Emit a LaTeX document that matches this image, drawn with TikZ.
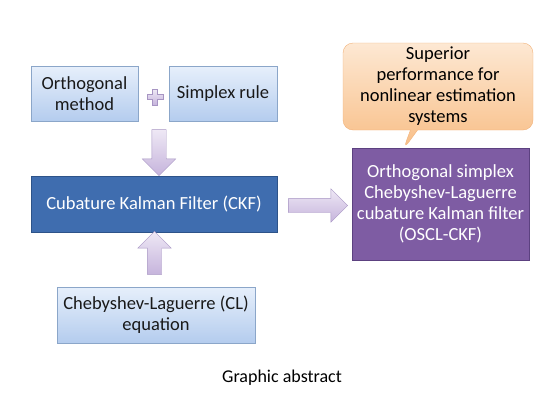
\documentclass[tikz,border=0pt]{standalone}
\usepackage{fontspec}
\setmainfont{Carlito}
\usetikzlibrary{shapes.arrows,shapes.callouts}

\definecolor{lbline}{HTML}{8BA6C9}
\definecolor{lbtop}{HTML}{E6EFFB}
\definecolor{lbbot}{HTML}{B4CCEE}
\definecolor{ckffill}{HTML}{3F6DAF}
\definecolor{ckfline}{HTML}{2D5389}
\definecolor{oscfill}{HTML}{7E5CA3}
\definecolor{oscline}{HTML}{5C4180}
\definecolor{calltop}{HTML}{FDE8D3}
\definecolor{callbot}{HTML}{F8BE86}
\definecolor{callline}{HTML}{F2B27A}
\definecolor{artop}{HTML}{EEE8F5}
\definecolor{arbot}{HTML}{C6B4DC}
\definecolor{arline}{HTML}{A795C3}

\tikzset{
  boxtext/.style={font=\fontsize{18.5}{21}\selectfont, align=center, inner sep=0pt},
  lightbox/.style={boxtext, draw=lbline, top color=lbtop, bottom color=lbbot, text=black!90},
  blockarrow/.style={single arrow, draw=arline, top color=artop, bottom color=arbot,
    inner sep=7pt, single arrow head extend=9.5pt, single arrow tip angle=90},
}

\begin{document}
\begin{tikzpicture}[x=1pt,y=-1pt]
\useasboundingbox (0,0) rectangle (550,413);

  \node[lightbox, minimum width=107pt, minimum height=55pt] (orth) at (84.5,94) {Orthogonal\\method};
  \node[lightbox, minimum width=108pt, minimum height=55pt] (simp) at (223,94) {Simplex rule};

  % plus sign between the two inputs
  \filldraw[draw=arline, top color=artop, bottom color=arbot]
    (152.5,89)--(157.5,89)--(157.5,94.5)--(163,94.5)--(163,99.5)--(157.5,99.5)--(157.5,105)
    --(152.5,105)--(152.5,99.5)--(147,99.5)--(147,94.5)--(152.5,94.5)--cycle;

  \node[boxtext, draw=ckfline, fill=ckffill, text=white, minimum width=246pt, minimum height=56pt] (ckf) at (154,204) {Cubature Kalman Filter (CKF)};
  \node[lightbox, minimum width=198pt, minimum height=56pt] (cl) at (156,315) {Chebyshev-Laguerre (CL)\\equation};

  \node[boxtext, draw=oscline, fill=oscfill, text=white, minimum width=177pt, minimum height=112pt] (oscl) at (440.5,204)
    {Orthogonal simplex\\Chebyshev-Laguerre\\cubature Kalman filter\\(OSCL-CKF)};

  \node[boxtext, rectangle callout, rounded corners=10pt, draw=callline, top color=calltop, bottom color=callbot,
    minimum width=190pt, minimum height=87pt, callout absolute pointer={(403,150)}] (perf) at (438,86.5)
    {Superior\\performance for\\nonlinear estimation\\systems};

  % block arrows
  \node[blockarrow, shape border rotate=270, minimum height=46pt] (down) at (159,149) {};
  \node[blockarrow, shape border rotate=90, minimum height=43pt] (up) at (154.5,256.5) {};
  \node[blockarrow, minimum height=59pt] (right) at (314.5,205.5) {};

  \node[font=\fontsize{18}{21}\selectfont] (cap) at (282,378) {Graphic abstract};
\end{tikzpicture}
\end{document}
